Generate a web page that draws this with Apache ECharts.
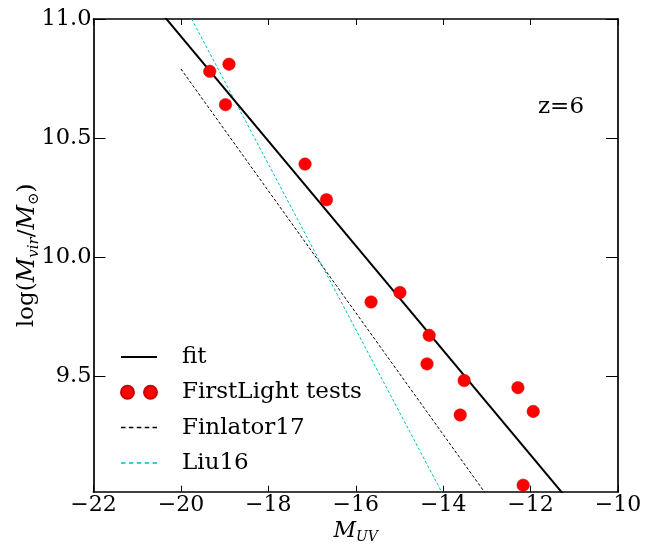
<!DOCTYPE html>
<html>
<head>
<meta charset="utf-8">
<script src="https://cdn.jsdelivr.net/npm/echarts@6/dist/echarts.min.js"></script>
<style>
  html, body { margin: 0; padding: 0; background: #fff; }
  #chart { width: 659px; height: 545px; }
</style>
</head>
<body>
<div id="chart"></div>
<script>
// FirstLight test galaxies (M_UV, log Mvir)
const muv = [-19.34, -18.90, -18.98, -17.16, -16.67, -15.65, -14.99, -14.32, -14.37, -13.52, -12.29, -13.61, -11.94, -12.17];
const logMvir = [10.78, 10.81, 10.64, 10.39, 10.24, 9.81, 9.85, 9.67, 9.55, 9.48, 9.45, 9.335, 9.35, 9.04];

// relations (end points, clipped by the frame)
const fitX = [-22, -10];
const fitY = [11.367, 8.727];
const finX = [-20, -12];
const finY = [10.79, 8.741];
const liuX = [-22, -12];
const liuY = [11.781, 8.304];

const xTicks = [-22, -20, -18, -16, -14, -12, -10];
const yTicks = [9.5, 10.0, 10.5, 11.0];

const font = "DejaVu Serif";
const pairs = (xs, ys) => xs.map((x, i) => [x, ys[i]]);

// legend handles
const iconSolid = "path://M0,0h36v2h-36z";
const iconDash = "path://M0,0h4.5v1.5h-4.5zM7.9,0h4.5v1.5h-4.5zM15.8,0h4.5v1.5h-4.5zM23.7,0h4.5v1.5h-4.5zM31.5,0h4.5v1.5h-4.5z";
const iconDots = "path://M0,6.5a6.5,6.5 0 1,0 13,0a6.5,6.5 0 1,0 -13,0zM23,6.5a6.5,6.5 0 1,0 13,0a6.5,6.5 0 1,0 -13,0z";

const chart = echarts.init(document.getElementById("chart"));

const frameLine = { show: true, lineStyle: { color: "#000", width: 1.7 } };

let option = {
  animation: false,
  backgroundColor: "#fff",
  grid: { left: 93.5, right: 41, top: 19, bottom: 53.3, outerBoundsMode: "none", containLabel: false },
  legend: {
    orient: "vertical",
    left: 115,
    top: 340.5,
    itemWidth: 36,
    itemHeight: 13,
    itemGap: 12.3,
    textStyle: { fontFamily: font, fontSize: 23, color: "#000", lineHeight: 22, padding: [0, 0, 0, 20] },
    data: [
      { name: "fit", icon: iconSolid },
      { name: "FirstLight tests", icon: iconDots },
      { name: "Finlator17", icon: iconDash },
      { name: "Liu16", icon: iconDash }
    ]
  },
  xAxis: [
    {
      type: "value", min: -22, max: -10, interval: 2,
      axisLine: frameLine,
      axisTick: { show: true, inside: true, length: 6, lineStyle: { color: "#000", width: 1 } },
      axisLabel: {
        fontFamily: font, fontSize: 22, color: "#000", margin: 3,
        formatter: v => String(v).replace("-", "\u2212")
      },
      splitLine: { show: false },
      name: "{it|M}{sub|UV}",
      nameLocation: "middle",
      nameMoveOverlap: false,
      nameGap: 27,
      nameTextStyle: {
        rich: {
          it: { fontFamily: font, fontStyle: "italic", fontSize: 22, color: "#000", lineHeight: 26, verticalAlign: "middle" },
          sub: { fontFamily: font, fontStyle: "italic", fontSize: 14, color: "#000", lineHeight: 14, verticalAlign: "bottom" }
        }
      }
    },
    {
      type: "value", min: -22, max: -10, interval: 2, position: "top",
      axisLine: frameLine,
      axisTick: { show: true, inside: true, length: 6, lineStyle: { color: "#000", width: 1 } },
      axisLabel: { show: false },
      splitLine: { show: false }
    }
  ],
  yAxis: [
    {
      type: "value", min: 9.0126, max: 11,
      axisLine: frameLine,
      axisTick: { show: true, inside: true, length: 12, customValues: yTicks, lineStyle: { color: "#000", width: 1 } },
      axisLabel: {
        fontFamily: font, fontSize: 22.5, color: "#000", margin: 2,
        customValues: yTicks,
        formatter: v => v.toFixed(1)
      },
      splitLine: { show: false },
      name: "{n|log(}{it|M}{sub|vir}{n|/}{it|M}{sub|\u2299}{n|)}",
      nameLocation: "middle",
      nameRotate: 90,
      nameMoveOverlap: false,
      nameGap: 52,
      nameTextStyle: {
        rich: {
          n: { fontFamily: font, fontSize: 23, color: "#000", lineHeight: 28, verticalAlign: "middle" },
          it: { fontFamily: font, fontStyle: "italic", fontSize: 24, color: "#000", lineHeight: 28, verticalAlign: "middle" },
          sub: { fontFamily: font, fontStyle: "italic", fontSize: 15, color: "#000", lineHeight: 15, verticalAlign: "bottom" }
        }
      }
    },
    {
      type: "value", min: 9.0126, max: 11, position: "right",
      axisLine: frameLine,
      axisTick: { show: true, inside: true, length: 12, customValues: yTicks, lineStyle: { color: "#000", width: 1 } },
      axisLabel: { show: false },
      splitLine: { show: false }
    }
  ],
  graphic: [
    {
      type: "text", left: 538, top: 96,
      style: { text: "z=6", fontFamily: font, fontSize: 23, fill: "#000" }
    }
  ],
  series: [
    {
      name: "fit", type: "line", symbol: "none", clip: true, z: 3,
      color: "#000",
      lineStyle: { color: "#000", width: 2 },
      data: pairs(fitX, fitY)
    },
    {
      name: "FirstLight tests", type: "scatter", symbol: "circle", symbolSize: 12.5, z: 5,
      color: "#ff0000",
      itemStyle: { color: "#ff0000", borderColor: "#cc0000", borderWidth: 0.5, opacity: 1 },
      data: pairs(muv, logMvir)
    },
    {
      name: "Finlator17", type: "line", symbol: "none", clip: true, z: 2,
      color: "#000",
      lineStyle: { color: "#000", width: 1, type: [3, 2] },
      data: pairs(finX, finY)
    },
    {
      name: "Liu16", type: "line", symbol: "none", clip: true, z: 2,
      color: "#00bfbf",
      lineStyle: { color: "#00bfbf", width: 1, type: [3, 2] },
      data: pairs(liuX, liuY)
    }
  ]
};

chart.setOption(option);
</script>
</body>
</html>
